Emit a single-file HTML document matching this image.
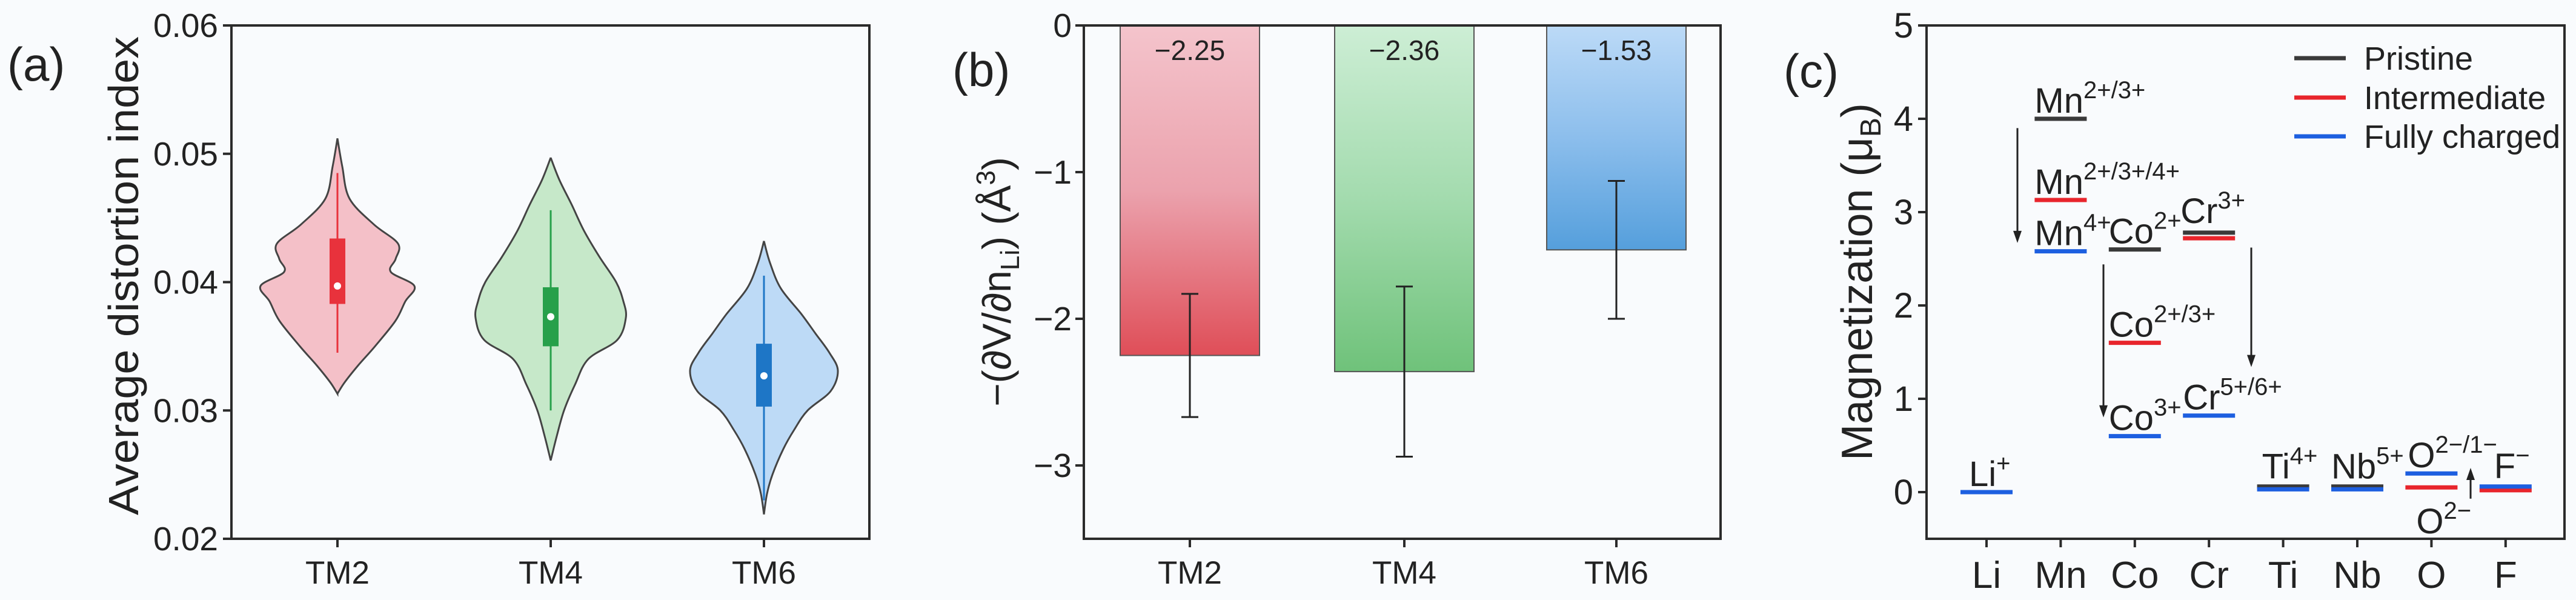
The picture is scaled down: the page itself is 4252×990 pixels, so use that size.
<!DOCTYPE html>
<html><head><meta charset="utf-8"><style>
html,body{margin:0;padding:0;background:#f9fbfd;}
svg{display:block;font-family:"Liberation Sans",Arial,sans-serif;}
</style></head><body>
<svg id="fig" width="4252" height="990" viewBox="0 0 4252 990" xmlns="http://www.w3.org/2000/svg">
<defs>
<linearGradient id="gR" x1="0" y1="0" x2="0" y2="1"><stop offset="0" stop-color="#f4c4cc"/><stop offset="0.5" stop-color="#eba2ad"/><stop offset="1" stop-color="#df4e58"/></linearGradient>
<linearGradient id="gG" x1="0" y1="0" x2="0" y2="1"><stop offset="0" stop-color="#cdeed5"/><stop offset="0.5" stop-color="#a3dbae"/><stop offset="1" stop-color="#6fc27a"/></linearGradient>
<linearGradient id="gB" x1="0" y1="0" x2="0" y2="1"><stop offset="0" stop-color="#bcdaf7"/><stop offset="0.5" stop-color="#8cbeec"/><stop offset="1" stop-color="#559fdc"/></linearGradient>
</defs>
<g id="pa"></g>
<g id="pb"></g>
<g id="pc"></g>
</svg>
<script>
// ---------- Panel (a) data ----------
const aCats = ["TM2","TM4","TM6"];
const aTicks = [0.02,0.03,0.04,0.05,0.06];
const aTickLabels = ["0.02","0.03","0.04","0.05","0.06"];
const v2y = [0.0512,0.0490,0.0465,0.0445,0.0430,0.0418,0.0408,0.0397,0.0385,0.0370,0.0350,0.0335,0.0322,0.0313];
const v2w = [0,8,20,60,100,96,88,127,112,96,62,34,12,0];
const v4y = [0.0497,0.0480,0.0460,0.0440,0.0420,0.0400,0.0385,0.0372,0.0355,0.0340,0.0320,0.0300,0.0280,0.0261];
const v4w = [0,14,35,55,80,108,120,124,110,62,40,22,10,0];
const v6y = [0.0432,0.0415,0.0395,0.0375,0.0360,0.0345,0.0331,0.0315,0.0300,0.0285,0.0270,0.0250,0.0235,0.0219];
const v6w = [0,10,28,62,85,108,122,110,72,50,32,14,5,0];
const boxLo = [0.0383,0.0350,0.0303];
const boxHi = [0.0434,0.0396,0.0352];
const medians = [0.0397,0.0373,0.0327];
const whiskLo = [0.0345,0.0300,0.0230];
const whiskHi = [0.0485,0.0456,0.0405];

// ---------- Panel (b) data ----------
const bCats = ["TM2","TM4","TM6"];
const bValues = [-2.25,-2.36,-1.53];
const bErrTop = [-1.83,-1.78,-1.06];
const bErrBot = [-2.67,-2.94,-2.00];
const bLabels = ["\u22122.25","\u22122.36","\u22121.53"];
const bTicks = [0,-1,-2,-3];
const bTickLabels = ["0","\u22121","\u22122","\u22123"];

// ---------- Panel (c) data ----------
const cCats = ["Li","Mn","Co","Cr","Ti","Nb","O","F"];
const cTicks = [0,1,2,3,4,5];
const cPristine = [null,4.00,2.60,2.78,0.06,0.06,null,null];
const cInter = [null,3.13,1.60,2.72,null,null,0.05,0.02];
const cCharged = [0.00,2.58,0.60,0.82,0.03,0.03,0.20,0.06];

const NS="http://www.w3.org/2000/svg";
function mk(parent,tag,attrs,text){const e=document.createElementNS(NS,tag);for(const k in attrs)e.setAttribute(k,attrs[k]);if(text!==undefined)e.textContent=text;parent.appendChild(e);return e;}

// ===== Panel A =====
const pa=document.getElementById('pa');
const aL=382,aR=1435,aT=42,aB=889,aMin=0.02,aMax=0.06;
const ay=v=>aB-(v-aMin)/(aMax-aMin)*(aB-aT);
const aXc=[557,909,1261];
const ax=i=>aXc[i];
let fr=mk(pa,'rect',{x:aL,y:aT,width:aR-aL,height:aB-aT,fill:'none',stroke:'#2b2b2b','stroke-width':4});

aTicks.forEach((t,i)=>{
  let l=mk(pa,'line',{x1:aL-14,x2:aL,y1:ay(t),y2:ay(t),stroke:'#2b2b2b','stroke-width':4});
  
  let tx=mk(pa,'text',{x:aL-22,y:ay(t)+19,'font-size':55,'text-anchor':'end',fill:'#222'},aTickLabels[i]);
  
});
aCats.forEach((c,i)=>{
  let l=mk(pa,'line',{x1:ax(i),x2:ax(i),y1:aB,y2:aB+14,stroke:'#2b2b2b','stroke-width':4});
  
  let tx=mk(pa,'text',{x:ax(i),y:963,'font-size':53,'text-anchor':'middle',fill:'#222'},c);
  
});
let yta=mk(pa,'text',{x:0,y:0,'font-size':70,'text-anchor':'middle',fill:'#222',transform:'translate(228,455) rotate(-90)',textLength:790,lengthAdjust:'spacingAndGlyphs'},'Average distortion index');

let la=mk(pa,'text',{x:12,y:133,'font-size':78,fill:'#222'},'(a)');


function smoothPath(pts){
  let d='M'+pts[0][0]+','+pts[0][1];
  for(let i=0;i<pts.length-1;i++){
    const p0=pts[Math.max(i-1,0)],p1=pts[i],p2=pts[i+1],p3=pts[Math.min(i+2,pts.length-1)];
    const c1=[p1[0]+(p2[0]-p0[0])/6,p1[1]+(p2[1]-p0[1])/6];
    const c2=[p2[0]-(p3[0]-p1[0])/6,p2[1]-(p3[1]-p1[1])/6];
    d+=' C'+c1[0].toFixed(1)+','+c1[1].toFixed(1)+' '+c2[0].toFixed(1)+','+c2[1].toFixed(1)+' '+p2[0].toFixed(1)+','+p2[1].toFixed(1);
  }
  return d;
}
const vys=[v2y,v4y,v6y],vws=[v2w,v4w,v6w];
const vFill=['#f4c0c8','#c6e8c9','#bddaf6'],vBox=['#e8323c','#27a04a','#1e76c6'];
aCats.forEach((c,i)=>{
  const xc=ax(i);
  const right=vys[i].map((v,k)=>[xc+vws[i][k],ay(v)]);
  const left=vys[i].map((v,k)=>[xc-vws[i][k],ay(v)]).reverse();
  const d=smoothPath(right)+' '+smoothPath(left).replace('M','L')+' Z';
  let p=mk(pa,'path',{d:d,fill:vFill[i],stroke:'#444','stroke-width':3});
  
  let w=mk(pa,'line',{x1:xc,x2:xc,y1:ay(whiskHi[i]),y2:ay(whiskLo[i]),stroke:vBox[i],'stroke-width':3});
  
  let b=mk(pa,'rect',{x:xc-13,y:ay(boxHi[i]),width:26,height:ay(boxLo[i])-ay(boxHi[i]),fill:vBox[i]});
  
  let m=mk(pa,'circle',{cx:xc,cy:ay(medians[i]),r:6,fill:'#fff'});
  
});

// ===== Panel B =====
const pb=document.getElementById('pb');
const bL=1789,bR=2840,bT=42,bB=889,bMin=-3.5,bMax=0;
const by=v=>bT+(bMax-v)/(bMax-bMin)*(bB-bT);
const bXc=[1964,2318,2668];
const bx=i=>bXc[i];
const bW=230;
const grads=['url(#gR)','url(#gG)','url(#gB)'];
bCats.forEach((c,i)=>{
  let r=mk(pb,'rect',{x:bx(i)-bW/2,y:by(0),width:bW,height:by(bValues[i])-by(0),fill:grads[i],stroke:'#555','stroke-width':2});
  
  let g=mk(pb,'g',{stroke:'#222','stroke-width':3});
  
  mk(g,'line',{x1:bx(i),x2:bx(i),y1:by(bErrTop[i]),y2:by(bErrBot[i])});
  mk(g,'line',{x1:bx(i)-14,x2:bx(i)+14,y1:by(bErrTop[i]),y2:by(bErrTop[i])});
  mk(g,'line',{x1:bx(i)-14,x2:bx(i)+14,y1:by(bErrBot[i]),y2:by(bErrBot[i])});
  let t=mk(pb,'text',{x:bx(i),y:99,'font-size':46,'text-anchor':'middle',fill:'#222'},bLabels[i]);
  
  let l=mk(pb,'line',{x1:bx(i),x2:bx(i),y1:bB,y2:bB+14,stroke:'#2b2b2b','stroke-width':4});
  
  let tx=mk(pb,'text',{x:bx(i),y:963,'font-size':53,'text-anchor':'middle',fill:'#222'},c);
  
});
let frb=mk(pb,'rect',{x:bL,y:bT,width:bR-bL,height:bB-bT,fill:'none',stroke:'#2b2b2b','stroke-width':4});

bTicks.forEach((t,i)=>{
  let l=mk(pb,'line',{x1:bL-14,x2:bL,y1:by(t),y2:by(t),stroke:'#2b2b2b','stroke-width':4});
  
  let tx=mk(pb,'text',{x:bL-20,y:by(t)+19,'font-size':55,'text-anchor':'end',fill:'#222'},bTickLabels[i]);
  
});
let ytb=mk(pb,'text',{x:0,y:0,'font-size':66,'text-anchor':'middle',fill:'#222',transform:'translate(1668,465) rotate(-90)'});

ytb.innerHTML='\u2212(\u2202V/\u2202n<tspan font-size="44" dy="14">Li</tspan><tspan dy="-14">) (\u00c5</tspan><tspan font-size="44" dy="-26">3</tspan><tspan dy="26">)</tspan>';
let lb=mk(pb,'text',{x:1572,y:142,'font-size':78,fill:'#222'},'(b)');


// ===== Panel C =====
const pc=document.getElementById('pc');
const cL=3180,cR=4233,cT=42,cB=889,cMin=-0.5,cMax=5;
const cy=v=>cB-(v-cMin)/(cMax-cMin)*(cB-cT);
const cx0=3279,cStep=122.4;
const cx=i=>cx0+i*cStep;
let frc=mk(pc,'rect',{x:cL,y:cT,width:cR-cL,height:cB-cT,fill:'none',stroke:'#2b2b2b','stroke-width':4});

cTicks.forEach(t=>{
  let l=mk(pc,'line',{x1:cL-14,x2:cL,y1:cy(t),y2:cy(t),stroke:'#2b2b2b','stroke-width':4});
  
  let tx=mk(pc,'text',{x:cL-22,y:cy(t)+20,'font-size':58,'text-anchor':'end',fill:'#222'},String(t));
  
});
cCats.forEach((c,i)=>{
  let l=mk(pc,'line',{x1:cx(i),x2:cx(i),y1:cB,y2:cB+14,stroke:'#2b2b2b','stroke-width':4});
  
  let tx=mk(pc,'text',{x:cx(i),y:970,'font-size':62,'text-anchor':'middle',fill:'#222'},c);
  
});
const LW=86;
function level(i,v,col,name){
  if(v===null)return;
  let l=mk(pc,'line',{x1:cx(i)-LW/2,x2:cx(i)+LW/2,y1:cy(v),y2:cy(v),stroke:col,'stroke-width':7});
  
}
cCats.forEach((c,i)=>{
  level(i,cPristine[i],'#3a3a3a','level-pristine-'+c.toLowerCase());
  level(i,cInter[i],'#e8252c','level-intermediate-'+c.toLowerCase());
  level(i,cCharged[i],'#1d5fe0','level-charged-'+c.toLowerCase());
});
function ion(i,v,base,sup,name,dx,dyOff){
  let t=mk(pc,'text',{x:cx(i)-LW/2+(dx||0),y:cy(v)-(dyOff||10),'font-size':58,fill:'#222'});
  
  t.innerHTML=base+'<tspan font-size="40" dy="-24">'+sup+'</tspan>';
}
ion(0,cCharged[0],'Li','+','ion-label-li',14);
ion(1,cPristine[1],'Mn','2+/3+','ion-label-mn-pristine');
ion(1,cInter[1],'Mn','2+/3+/4+','ion-label-mn-intermediate');
ion(1,cCharged[1],'Mn','4+','ion-label-mn-charged');
ion(2,cPristine[2],'Co','2+','ion-label-co-pristine');
ion(3,cPristine[3],'Cr','3+','ion-label-cr-pristine',-4,16);
ion(2,cInter[2],'Co','2+/3+','ion-label-co-intermediate');
ion(2,cCharged[2],'Co','3+','ion-label-co-charged');
ion(3,cCharged[3],'Cr','5+/6+','ion-label-cr-charged');
ion(4,cCharged[4],'Ti','4+','ion-label-ti',8,18);
ion(5,cCharged[5],'Nb','5+','ion-label-nb',0,18);
ion(6,cCharged[6],'O','2\u2212/1\u2212','ion-label-o-oxidized',4);
let o2=mk(pc,'text',{x:cx(6)-LW/2+18,y:880,'font-size':58,fill:'#222'});

o2.innerHTML='O<tspan font-size="40" dy="-24">2\u2212</tspan>';
ion(7,cCharged[7],'F','\u2212','ion-label-f',24,14);
function arrow(x,v1,v2,name){
  const g=mk(pc,'g',{});
  
  const y1=cy(v1),y2=cy(v2),dir=y2>y1?1:-1;
  mk(g,'line',{x1:x,x2:x,y1:y1,y2:y2-dir*14,stroke:'#222','stroke-width':3});
  mk(g,'polygon',{points:x+','+y2+' '+(x-7)+','+(y2-dir*20)+' '+(x+7)+','+(y2-dir*20),fill:'#222'});
}
arrow(3330,3.9,2.67,'arrow-mn');
arrow(3472,2.44,0.8,'arrow-co');
arrow(3716,2.62,1.34,'arrow-cr');
arrow(4078,-0.07,0.26,'arrow-o');
const legNames=['Pristine','Intermediate','Fully charged'],legCols=['#3a3a3a','#e8252c','#1d5fe0'],legY=[96,161,225];
legNames.forEach((n,i)=>{
  const g=mk(pc,'g',{});
  
  mk(g,'line',{x1:3787,x2:3872,y1:legY[i],y2:legY[i],stroke:legCols[i],'stroke-width':7});
  mk(g,'text',{x:3902,y:legY[i]+19,'font-size':54,fill:'#222'},n);
});
let ytc=mk(pc,'text',{x:0,y:0,'font-size':72,'text-anchor':'middle',fill:'#222',transform:'translate(3090,465) rotate(-90)'});

ytc.innerHTML='Magnetization (\u03bc<tspan font-size="48" dy="14">B</tspan><tspan dy="-14">)</tspan>';
let lc=mk(pc,'text',{x:2944,y:144,'font-size':78,fill:'#222'},'(c)');

</script>
</body></html>
